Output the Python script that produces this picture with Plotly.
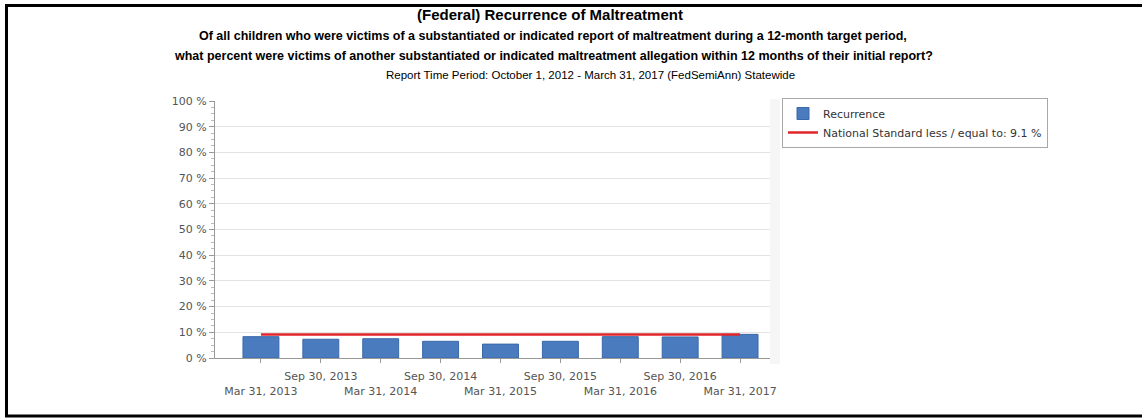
import plotly.graph_objects as go

# ---- data ----
periods = ["Mar 31, 2013", "Sep 30, 2013", "Mar 31, 2014", "Sep 30, 2014", "Mar 31, 2015",
           "Sep 30, 2015", "Mar 31, 2016", "Sep 30, 2016", "Mar 31, 2017"]
recurrence = [8.3, 7.3, 7.5, 6.5, 5.4, 6.5, 8.3, 8.2, 9.2]
national_standard = [9.1] * len(periods)
y_ticks = [0, 10, 20, 30, 40, 50, 60, 70, 80, 90, 100]

title_lines = [
    "(Federal) Recurrence of Maltreatment",
    "Of all children who were victims of a substantiated or indicated report of maltreatment during a 12-month target period,",
    "what percent were victims of another substantiated or indicated maltreatment allegation within 12 months of their initial report?",
    "Report Time Period: October 1, 2012 - March 31, 2017 (FedSemiAnn) Statewide",
]

# ---- layout geometry (pixels) ----
W, H = 1142, 418
L, R, T, B = 215, 770, 101, 358
def px_x(p):
    return (p - L) / (R - L)
def px_y(p):
    return (B - p) / (B - T)

# staggered tick labels: even index -> lower row, odd -> upper row
tick_text = [("<br>" + p) if i % 2 == 0 else p for i, p in enumerate(periods)]

fig = go.Figure()
fig.add_trace(go.Bar(
    x=periods, y=recurrence, name="Recurrence",
    marker=dict(color="#4a7bbf", line=dict(color="#3b68a8", width=1)),
    width=0.6,
))
fig.add_trace(go.Scatter(
    x=periods, y=national_standard, mode="lines",
    name="National Standard less / equal to: 9.1 %",
    line=dict(color="#e0242a", width=2.5),
))

font_tick = dict(family="DejaVu Sans, Verdana, sans-serif", size=11, color="#555555")

fig.update_layout(
    width=W, height=H,
    margin=dict(l=L, r=W - R, t=T, b=H - B, pad=0, autoexpand=False),
    paper_bgcolor="white", plot_bgcolor="white",
    showlegend=True,
    legend=dict(
        x=px_x(782), y=px_y(98), xanchor="left", yanchor="top",
        bordercolor="#a8a8a8", borderwidth=1, bgcolor="white",
        font=dict(family="DejaVu Sans, Verdana, sans-serif", size=11, color="#333333"),
        tracegroupgap=0, itemwidth=30,
    ),
    bargap=0.4,
)

fig.update_xaxes(
    type="category",
    range=[-0.767, 8.5],
    tickmode="array", tickvals=periods, ticktext=tick_text, tickangle=0,
    ticks="outside", ticklen=4, tickcolor="#999999", ticklabelstandoff=4,
    showline=True, linecolor="#999999", linewidth=1,
    showgrid=False, tickfont=font_tick, zeroline=False, automargin=False,
)
fig.update_yaxes(
    range=[0, 100],
    tickmode="array", tickvals=y_ticks, ticktext=[f"{v} %" for v in y_ticks],
    ticks="outside", ticklen=5, tickcolor="#999999",
    minor=dict(ticks="outside", ticklen=3, dtick=2.5, tickcolor="#bbbbbb", showgrid=False),
    showline=True, linecolor="#999999", linewidth=1,
    showgrid=True, gridcolor="#e3e3e3", gridwidth=1,
    tickfont=font_tick, zeroline=False, automargin=False,
)

# titles
title_font = "Liberation Sans, Arial, sans-serif"
title_specs = [
    (title_lines[0], 15, True, 550, 14),
    (title_lines[1], 12.5, True, 553, 36),
    (title_lines[2], 12.5, True, 553, 56),
    (title_lines[3], 11.5, False, 590, 75),
]
for text, size, bold, xpx, ypx in title_specs:
    fig.add_annotation(
        text=f"<b>{text}</b>" if bold else text,
        xref="paper", yref="paper", x=px_x(xpx), y=px_y(ypx),
        xanchor="center", yanchor="middle", showarrow=False,
        font=dict(family=title_font, size=size, color="#000000"),
    )

# faint shadow at right edge of plot area
fig.add_shape(type="rect", xref="paper", yref="paper", layer="below",
              x0=1.0, x1=px_x(780), y0=px_y(364), y1=px_y(99),
              line=dict(width=0), fillcolor="#f6f6f6")

# frame border (top, left, bottom)
border = dict(color="black", width=3)
fig.add_shape(type="line", xref="paper", yref="paper",
              x0=px_x(5), x1=px_x(1142), y0=px_y(5.5), y1=px_y(5.5), line=border)
fig.add_shape(type="line", xref="paper", yref="paper",
              x0=px_x(6.5), x1=px_x(6.5), y0=px_y(4), y1=px_y(417), line=border)
fig.add_shape(type="line", xref="paper", yref="paper",
              x0=px_x(5), x1=px_x(1142), y0=px_y(416), y1=px_y(416), line=border)

fig.write_html("out.html")
